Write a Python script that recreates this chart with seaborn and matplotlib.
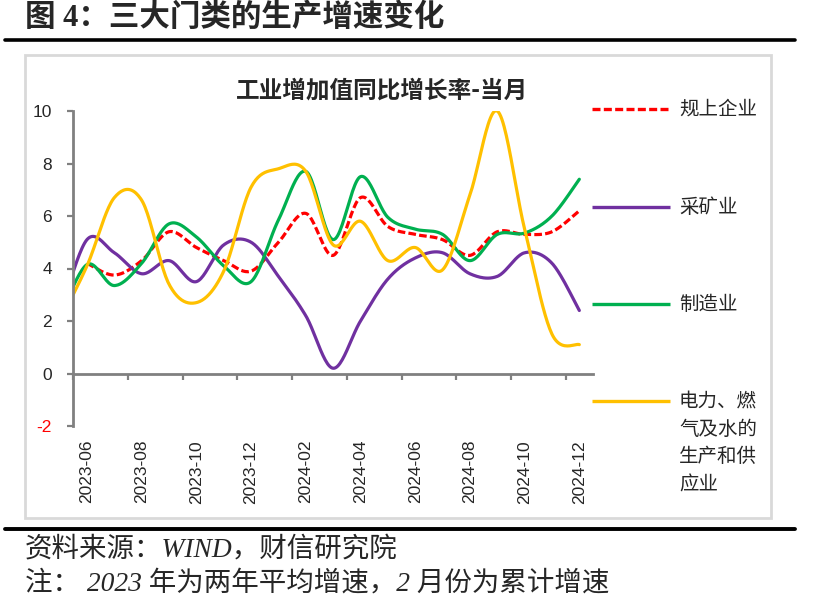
import numpy as np
import pandas as pd
import matplotlib
matplotlib.use('Agg')
import matplotlib.pyplot as plt
from matplotlib.lines import Line2D
from matplotlib.patches import Rectangle
import seaborn as sns

# data (2023 = two-year average, 2023-05 only partly visible at the left edge)
months = ['2023-05', '2023-06', '2023-07', '2023-08', '2023-09', '2023-10', '2023-11', '2023-12',
          '2024-01', '2024-02', '2024-03', '2024-04', '2024-05', '2024-06', '2024-07', '2024-08',
          '2024-09', '2024-10', '2024-11', '2024-12']
total = [np.nan, 4.2, 3.75, 4.3, 5.4, 4.8, 4.3, 3.9, 5.0, 6.1, 4.5, 6.7, 5.6, 5.3, 5.1, 4.5, 5.4, 5.3, 5.4, 6.2]
mining = [2.2, 5.1, 4.6, 3.8, 4.3, 3.5, 4.9, 5.0, 3.7, 2.2, 0.2, 2.0, 3.6, 4.4, 4.6, 3.8, 3.7, 4.6, 4.2, 2.4]
manuf = [2.1, 4.15, 3.35, 4.2, 5.7, 5.2, 4.1, 3.5, 5.85, 7.7, 5.1, 7.5, 5.95, 5.5, 5.3, 4.3, 5.3, 5.35, 6.0, 7.4]
power = [2.0, 4.1, 6.7, 6.6, 3.4, 2.7, 3.9, 7.1, 7.8, 7.7, 4.9, 5.8, 4.3, 4.8, 3.95, 6.8, 10.0, 5.5, 1.5, 1.1]

names = ['规上企业', '采矿业', '制造业', '电力、燃气及水的生产和供应业']
legend_labels = ['规上企业', '采矿业', '制造业', '电力、燃\n气及水的\n生产和供\n应业']
colors = ['#FF0000', '#7030A0', '#00B050', '#FFC000']

W, H = 820, 606


def smooth(x, y, n=24):
    # excel style smoothed line (bezier with catmull-rom control points)
    P = np.column_stack([np.asarray(x, float), np.asarray(y, float)])
    P = np.vstack([P[0], P, P[-1]])
    t = np.linspace(0, 1, n, endpoint=False)[:, None]
    out = []
    for i in range(1, len(P) - 2):
        p0, p1, p2, p3 = P[i - 1], P[i], P[i + 1], P[i + 2]
        c1 = p1 + (p2 - p0) / 6
        c2 = p2 - (p3 - p1) / 6
        out.append((1 - t) ** 3 * p1 + 3 * (1 - t) ** 2 * t * c1 + 3 * (1 - t) * t ** 2 * c2 + t ** 3 * p2)
    out.append(P[-2][None, :])
    out = np.vstack(out)
    return out[:, 0], out[:, 1]


xpos = np.arange(len(months)) - 1  # 2023-06 -> 0
frames = []
for name, vals in zip(names, [total, mining, manuf, power]):
    s = pd.Series(vals, index=xpos).dropna()
    sx, sy = smooth(s.index.values, s.values)
    frames.append(pd.DataFrame({'x': sx, 'y': sy, 'name': name}))
df = pd.concat(frames, ignore_index=True)

sns.set_style('white')
plt.rcParams['font.family'] = ['Liberation Sans', 'Noto Sans CJK SC', 'DejaVu Sans']
plt.rcParams['axes.unicode_minus'] = False

fig = plt.figure(figsize=(W / 100, H / 100), dpi=100)
ax = fig.add_axes([73.3 / W, 1 - 426 / H, (593 - 73.3) / W, (426 - 111) / H])

sns.lineplot(data=df, x='x', y='y', hue='name', style='name', hue_order=names, style_order=names,
             palette=dict(zip(names, colors)),
             dashes={names[0]: (2.4, 1.0), names[1]: '', names[2]: '', names[3]: ''},
             sort=False, estimator=None, legend=False, linewidth=2.3, ax=ax)

ax.set_xlim(-0.5, 18.5)
ax.set_ylim(-2, 10)
ax.set_yticks(range(-2, 11, 2))
ax.set_xticks(range(0, 19, 2))
ax.set_xticklabels(months[1::2], rotation=90)
ax.set_xlabel('')
ax.set_ylabel('')
ax.tick_params(axis='x', length=0, pad=10, labelsize=12.5)
ax.tick_params(axis='y', left=True, direction='out', length=4.5, width=1.6, color='#808080',
               pad=11, labelsize=12.5)
for sp in ['top', 'right', 'bottom']:
    ax.spines[sp].set_visible(False)
ax.spines['left'].set_color('#808080')
ax.spines['left'].set_linewidth(2)
ax.get_yticklabels()[0].set_color('#FF0000')

# horizontal axis crossing at zero with tick marks between months
sec = ax.secondary_xaxis((0 - ax.get_ylim()[0]) / (ax.get_ylim()[1] - ax.get_ylim()[0]))
sec.set_xticks(np.arange(-0.5, 18, 2))
sec.tick_params(axis='x', direction='out', length=4.5, width=1.6, color='#808080', labelbottom=False)
sec.spines['bottom'].set_color('#808080')
sec.spines['bottom'].set_linewidth(2)

fig.text(382 / W, 1 - 91 / H, '工业增加值同比增长率-当月', ha='center', va='center',
         fontsize=17, weight='bold', family=['Noto Sans CJK SC'])

# legend on the right
leg_y = [109, 207, 304, 401]
for lab, c, yy, i in zip(legend_labels, colors, leg_y, range(4)):
    ln = Line2D([592 / W, 670 / W], [1 - yy / H, 1 - yy / H], transform=fig.transFigure,
                color=c, lw=2.4, solid_capstyle='butt')
    if i == 0:
        ln.set_dashes((2.4, 1.0))
    fig.add_artist(ln)
    if i < 3:
        fig.text(679 / W, 1 - yy / H, lab, ha='left', va='center', fontsize=14,
                 family=['Noto Sans CJK SC'])
    else:
        fig.text(679 / W, 1 - (yy - 10) / H, lab, ha='left', va='top', fontsize=14,
                 family=['Noto Sans CJK SC'], linespacing=1.42)

# chart frame and page decorations
fig.add_artist(Rectangle((25 / W, 1 - 518 / H), (771 - 25) / W, (518 - 55) / H,
                         transform=fig.transFigure, fill=False, edgecolor='#D9D9D9', lw=2))
fig.add_artist(Line2D([5 / W, 795 / W], [1 - 40 / H, 1 - 40 / H], transform=fig.transFigure,
                      color='black', lw=2.6))
fig.add_artist(Line2D([5 / W, 795 / W], [1 - 529 / H, 1 - 529 / H], transform=fig.transFigure,
                      color='black', lw=2.8))

fig.text(25 / W, 1 - 18 / H, '图 4：三大门类的生产增速变化', ha='left', va='center',
         fontsize=22, weight='bold', family=['Liberation Serif', 'Noto Sans CJK SC'])
fig.text(25 / W, 1 - 550 / H, '资料来源：WIND，财信研究院', ha='left', va='center',
         fontsize=19.8, style='italic', family=['Liberation Serif', 'Noto Sans CJK SC'])
fig.text(25 / W, 1 - 584 / H, '注： 2023 年为两年平均增速，2 月份为累计增速', ha='left', va='center',
         fontsize=19.8, style='italic', family=['Liberation Serif', 'Noto Sans CJK SC'])

fig.savefig('out.png', dpi=100, facecolor='white')
